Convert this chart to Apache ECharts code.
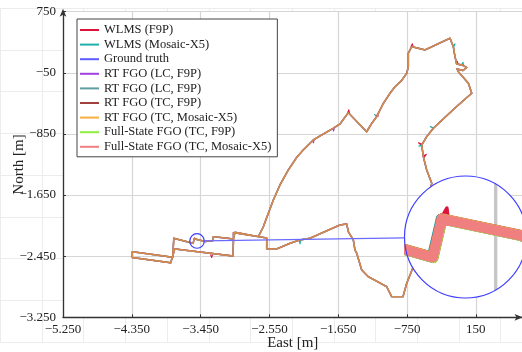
<!DOCTYPE html>
<html><head><meta charset="utf-8">
<script src="https://cdn.jsdelivr.net/npm/echarts@6/dist/echarts.min.js"></script>
<style>html,body{margin:0;padding:0;background:#fff}#c{width:522px;height:352px}</style>
</head><body><div id="c"></div>
<script>
// ---- data (metres, East / North) ----
const eastTicks = [-5250, -4350, -3450, -2550, -1650, -750, 150];
const northTicks = [750, -50, -850, -1650, -2450, -3250];

const seriesNames = ['WLMS (F9P)', 'WLMS (Mosaic-X5)', 'Ground truth', 'RT FGO (LC, F9P)', 'RT FGO (LC, F9P)\u200B',
  'RT FGO (TC, F9P)', 'RT FGO (TC, Mosaic-X5)', 'Full-State FGO (TC, F9P)', 'Full-State FGO (TC, Mosaic-X5)'];
const seriesColors = ['#dc143c', '#20b2aa', '#5c5cff', '#a040e0', '#5f9ea0', '#a0403c', '#f5b041', '#90ee40', '#f08080'];
// small per-estimator offsets (m) as seen at the magnified corner
const seriesShift = [[1, -0.5], [-1.5, 0.5], [0, 0], [-0.5, 0.5], [-1, 0.3], [0, 1], [0.3, 0.8], [0.8, -1], [0, 0]];

// west "stairs" part of the drive
const stairsPath = [
  [-2695, -2195], [-3000, -2138], [-3020, -2142], [-3022, -2225], [-3284, -2195], [-3288, -2245],
  [-3393, -2258], [-3410, -2249], [-3534, -2223], [-3548, -2283], [-3591, -2271], [-3801, -2216],
  [-3814, -2465], [-4343, -2392], [-4343, -2468], [-3841, -2537], [-3788, -2356], [-3026, -2448],
  [-3020, -2225], [-3020, -2142], [-3000, -2138], [-2695, -2195]
];
// big loop to the north-east
const loopPath = [
  [-2695, -2195], [-2630, -2065], [-2499, -1715], [-2412, -1518], [-2303, -1322], [-2189, -1152],
  [-2107, -1060], [-1976, -929], [-1888, -877], [-1714, -776], [-1627, -720], [-1518, -572],
  [-1278, -821], [-1208, -707], [-1147, -624], [-1064, -458], [-973, -318], [-907, -232],
  [-816, -144], [-754, -56], [-733, 30], [-733, 206], [-689, 292], [-603, 271], [-515, 249],
  [-188, 402], [-145, 292], [-123, 161], [-100, 65], [-31, 52], [30, 20], [-18, -20], [-96, 0],
  [-77, -39], [52, -187], [96, -318], [-123, -511], [-319, -694], [-406, -776], [-493, -886],
  [-558, -995], [-537, -1148], [-493, -1322], [-427, -1496], [-515, -1911], [-668, -2588],
  [-754, -2805], [-803, -2980], [-951, -2980], [-1016, -2850], [-1257, -2719], [-1343, -2631],
  [-1408, -2413], [-1431, -2369], [-1453, -2238], [-1518, -2130], [-1539, -2029], [-1627, -2042],
  [-2019, -2216], [-2150, -2238], [-2281, -2282], [-2455, -2356], [-2586, -2356], [-2586, -2212],
  [-2695, -2195]
];
// outlier spikes of single estimators
const spikesF9P = [
  [[-1530, -578], [-1512, -535], [-1500, -585]],
  [[-1160, -640], [-1135, -590], [-1128, -625]],
  [[-556, -985], [-600, -965], [-552, -1005]],
  [[-537, -1135], [-498, -1118], [-530, -1160]],
  [[-700, 290], [-680, 330], [-668, 284]],
  [[-110, 68], [-92, 100], [-82, 58]],
  [[-3320, -2426], [-3306, -2468], [-3294, -2430]],
  [[-3534, -2220], [-3526, -2206], [-3524, -2222]]
];
const spikesX5 = [
  [[-1155, -612], [-1180, -592], [-1142, -622]],
  [[-150, 300], [-122, 330], [-140, 284]],
  [[-410, -770], [-445, -752], [-400, -786]],
  [[-560, -990], [-595, -1012], [-553, -1002]],
  [[-2160, -2242], [-2150, -2290], [-2140, -2244]],
  [[-40, 55], [-18, 88], [-10, 48]]
];
const spikesLC = [
  [[-1985, -934], [-1975, -968], [-1965, -928]],
  [[-1720, -780], [-1712, -812], [-1700, -776]]
];
// magnifier: centre and radius in metres, lens on screen
const zoomCenter = [-3497, -2251];
const zoomRadius = 95;
const lens = { cx: 465.5, cy: 237, r: 61 };
const magGridE = -3450;

// ---- build ----
const fullPath = stairsPath.concat(loopPath);
const fontF = 'Liberation Serif';
const mainOpacity = [0.4, 0.4, 0.4, 0.4, 0.4, 1, 0.6, 0.12, 0.25];
function fmt(v) {
  const a = Math.abs(v);
  const s = a >= 1000 ? Math.floor(a / 1000) + '.' + String(a % 1000).padStart(3, '0') : String(a);
  return (v < 0 ? '\u2212' : '') + s;
}
function spikeData(list) {
  const out = [];
  list.forEach((sp, i) => { if (i) out.push('-'); sp.forEach(p => out.push(p)); });
  return out;
}
const chart = echarts.init(document.getElementById('c'), null, { renderer: 'canvas' });

const mPerPx = 6010 / 459.5;
const mag = lens.r / zoomRadius * mPerPx;      // magnification of the lens
const insetW = 1.2 * mag;                       // magnified line width
const series = [];
function addSet(ax, width, spikeWidth, opac, z) {
  seriesNames.forEach((n, i) => {
    const s = seriesShift[i];
    const sp = i === 0 ? spikesF9P : i === 1 ? spikesX5 : i === 3 ? spikesLC : null;
    if (sp) series.push({
      type: 'line', name: n, xAxisIndex: ax, yAxisIndex: ax, z: z,
      data: spikeData(sp), showSymbol: false, symbol: 'none', silent: true, animation: false, clip: true,
      color: seriesColors[i], connectNulls: false,
      lineStyle: { color: seriesColors[i], width: spikeWidth, opacity: 1, join: 'round' }
    });
    series.push({
      type: 'line', name: n, xAxisIndex: ax, yAxisIndex: ax, z: z,
      data: fullPath.map(p => [p[0] + s[0], p[1] + s[1]]),
      showSymbol: false, symbol: 'none', silent: true, animation: false, clip: true,
      color: seriesColors[i],
      lineStyle: { color: seriesColors[i], width: width, opacity: opac ? opac[i] : 1, join: 'round', cap: 'round' }
    });
  });
}
addSet(0, 1.4, 1.1, mainOpacity, 2);
// magnified grid line inside lens
const hh = Math.sqrt(zoomRadius * zoomRadius - Math.pow(magGridE - zoomCenter[0], 2));
series.push({
  type: 'line', xAxisIndex: 1, yAxisIndex: 1, z: 4, silent: true, animation: false, symbol: 'none',
  data: [[magGridE, zoomCenter[1] - hh], [magGridE, zoomCenter[1] + hh]],
  lineStyle: { color: '#c6c6c6', width: 3.3 }
});
addSet(1, insetW, insetW * 0.35, null, 5);

// inset grid shrunk by half a line width (line clip rect is widened by that amount)
const inR = lens.r - insetW / 2;
const inD = inR / lens.r * zoomRadius;

const axisLab = { fontFamily: fontF, fontSize: 13, color: '#222' };
const option = {
  animation: false,
  backgroundColor: '#fff',
  grid: [
    { left: 63, top: 11.7, width: 459.5, height: 305.6, show: true, backgroundColor: '#fff', borderWidth: 0, z: 1, outerBoundsMode: 'none', containLabel: false },
    { left: lens.cx - inR, top: lens.cy - inR, width: 2 * inR, height: 2 * inR, show: false, z: 4, outerBoundsMode: 'none', containLabel: false },
    { left: 0.3, top: 8.3, width: 542.1, height: 333.6, show: false, z: 0, outerBoundsMode: 'none', containLabel: false }
  ],
  xAxis: [
    { type: 'value', gridIndex: 0, min: -5250, max: 760, interval: 900, z: 1,
      name: 'East [m]', nameLocation: 'middle', nameGap: 18, nameMoveOverlap: false,
      nameTextStyle: { fontFamily: fontF, fontSize: 15, color: '#222' },
      axisLine: { onZero: false, lineStyle: { color: '#333', width: 1.3 }, symbol: ['none', 'arrow'], symbolSize: [5, 8] },
      axisTick: { show: true, inside: true, length: 3, lineStyle: { color: '#333' } },
      axisLabel: Object.assign({ margin: 6, showMaxLabel: false, formatter: v => eastTicks.includes(v) ? fmt(v) : '' }, axisLab),
      splitLine: { show: true, lineStyle: { color: '#d6d6d6', width: 1.2 } } },
    { type: 'value', gridIndex: 1, min: zoomCenter[0] - inD, max: zoomCenter[0] + inD, show: false,
      splitLine: { show: false } },
    { type: 'value', gridIndex: 2, min: 0, max: 13, interval: 1, z: 0,
      axisLine: { show: false }, axisTick: { show: false }, axisLabel: { show: false },
      splitLine: { show: true, lineStyle: { color: '#ececec', width: 1 } } }
  ],
  yAxis: [
    { type: 'value', gridIndex: 0, min: -3250, max: 750, interval: 800, z: 1,
      name: 'North [m]', nameLocation: 'middle', nameGap: 36, nameRotate: 90, nameMoveOverlap: false,
      nameTextStyle: { fontFamily: fontF, fontSize: 15, color: '#222' },
      axisLine: { onZero: false, lineStyle: { color: '#333', width: 1.3 }, symbol: ['none', 'arrow'], symbolSize: [5, 8], symbolOffset: [0, 3] },
      axisTick: { show: true, inside: true, length: 3, lineStyle: { color: '#333' } },
      axisLabel: Object.assign({ margin: 7, formatter: v => northTicks.includes(v) ? fmt(v) : '' }, axisLab),
      splitLine: { show: true, lineStyle: { color: '#d6d6d6', width: 1.2 } } },
    { type: 'value', gridIndex: 1, min: zoomCenter[1] - inD, max: zoomCenter[1] + inD, show: false,
      splitLine: { show: false } },
    { type: 'value', gridIndex: 2, min: 0, max: 8, interval: 1, z: 0,
      axisLine: { show: false }, axisTick: { show: false }, axisLabel: { show: false },
      splitLine: { show: true, lineStyle: { color: '#ececec', width: 1 } } }
  ],
  legend: {
    data: seriesNames, orient: 'vertical', left: 77, top: 19,
    padding: [4, 6, 3, 3], itemGap: 0.6, itemWidth: 19, itemHeight: 2, icon: 'rect',
    backgroundColor: '#fff', borderColor: '#444', borderWidth: 1, borderRadius: 0,
    textStyle: { fontFamily: fontF, fontSize: 12.5, color: '#222', lineHeight: 14 },
    selectedMode: false, z: 6
  },
  series: series
};
chart.setOption(option);

// magnifier decoration
const pc = chart.convertToPixel({ xAxisIndex: 0, yAxisIndex: 0 }, zoomCenter);
const pe = chart.convertToPixel({ xAxisIndex: 0, yAxisIndex: 0 }, [zoomCenter[0] + zoomRadius, zoomCenter[1]]);
const rs = pe[0] - pc[0];
const dx = lens.cx - pc[0], dy = lens.cy - pc[1], dl = Math.sqrt(dx * dx + dy * dy);
const ux = dx / dl, uy = dy / dl;
chart.setOption({
  graphic: [
    { type: 'circle', z: 3, silent: true, shape: { cx: lens.cx, cy: lens.cy, r: lens.r }, style: { fill: '#fff', stroke: null } },
    { type: 'circle', z: 10, silent: true, shape: { cx: lens.cx, cy: lens.cy, r: lens.r }, style: { fill: null, stroke: '#3c3cff', lineWidth: 1.2 } },
    { type: 'circle', z: 10, silent: true, shape: { cx: pc[0], cy: pc[1], r: rs }, style: { fill: null, stroke: '#3c3cff', lineWidth: 1.2 } },
    { type: 'line', z: 10, silent: true,
      shape: { x1: pc[0] + ux * rs, y1: pc[1] + uy * rs, x2: lens.cx - ux * lens.r, y2: lens.cy - uy * lens.r },
      style: { stroke: '#6a6aff', lineWidth: 1.4 } }
  ]
});
</script></body></html>
